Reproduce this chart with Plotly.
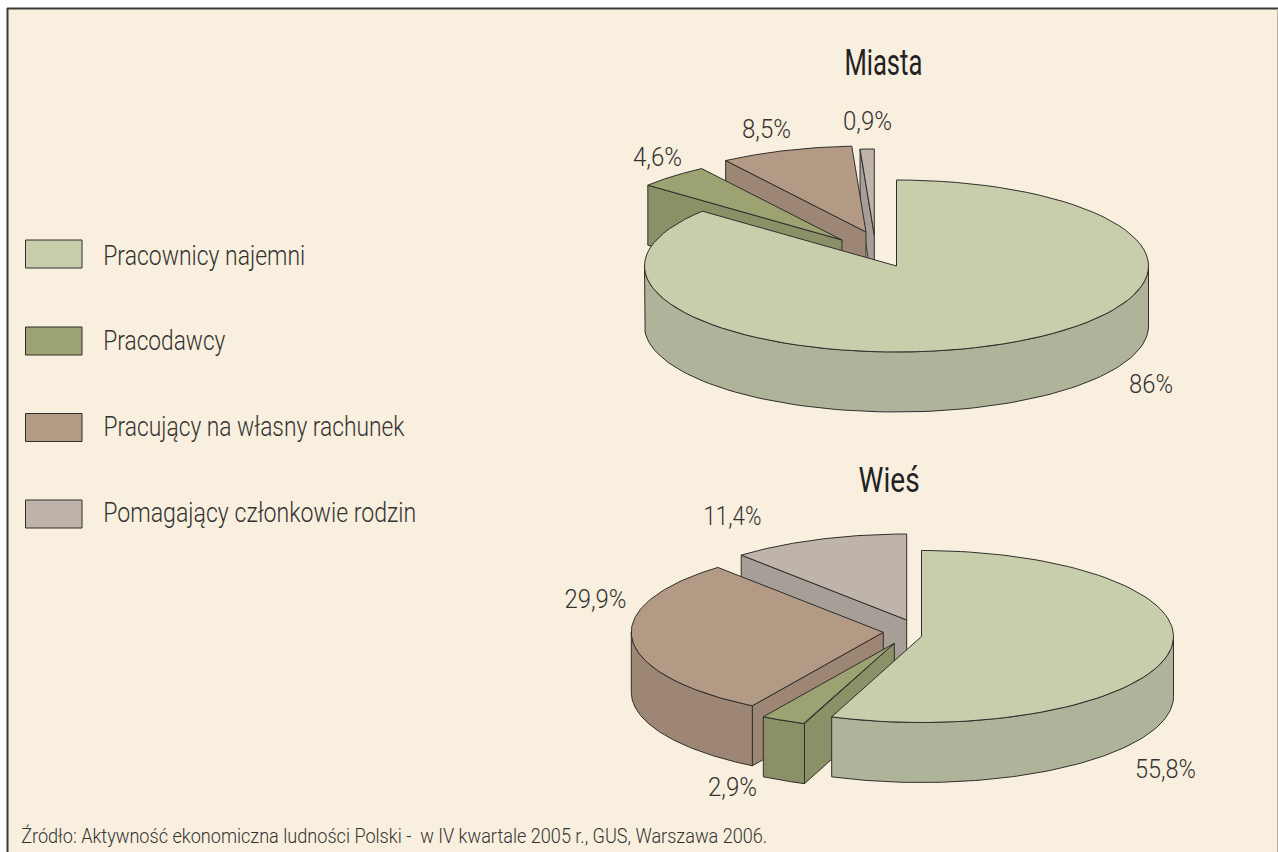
import json
import math
import plotly.graph_objects as go

categories = ["Pracownicy najemni", "Pracodawcy", "Pracujący na własny rachunek", "Pomagający członkowie rodzin"]
miasta_values = [86, 4.6, 8.5, 0.9]
wies_values = [55.8, 2.9, 29.9, 11.4]
title_miasta = "Miasta"
title_wies = "Wieś"
source_text = "Źródło: Aktywność ekonomiczna ludności Polski -  w IV kwartale 2005 r., GUS, Warszawa 2006."

TOP = ["#C8CDAC", "#9DA273", "#B39A84", "#BFB4AA"]
SIDE = ["#AFB399", "#8B9066", "#9E8674", "#A69E97"]
BG = "#F9EFDE"
EDGE = "#2E2E2C"
FONT = "Roboto"
TXT = "#333331"
RX, RY, DEPTH = 252, 86, 60

PIES = [
    dict(values=miasta_values, apex=[(896.5, 266), (842, 240), (866, 232), (874.3, 235)],
         labels=[(1151, 384), (657, 157), (766, 129), (867, 121)], widths=[44, 49, 49, 49]),
    dict(values=wies_values, apex=[(921.5, 636.5), (894.3, 643.3), (883.3, 632.3), (906.7, 620)],
         labels=[(1165, 769), (732, 787), (595, 599), (732, 516)], widths=[61, 49, 62, 58]),
]

fig = go.Figure()


def poly(pts, fill):
    fig.add_trace(go.Scatter(x=[p[0] for p in pts], y=[p[1] for p in pts], mode="lines",
                             fill="toself", fillcolor=fill, line=dict(color=EDGE, width=1),
                             hoverinfo="skip", showlegend=False))


def rim(c, deg, dy=0):
    t = math.radians(deg)
    return (c[0] + RX * math.sin(t), c[1] - RY * math.cos(t) + dy)


def arc(c, a, b, dy=0, n=90):
    return [rim(c, a + (b - a) * i / n, dy) for i in range(n + 1)]


def pie(spec):
    angles = [0]
    for v in spec["values"]:
        angles.append(angles[-1] + 3.6 * v)
    for i in range(len(spec["values"]) - 1, -1, -1):
        a, b, c = angles[i], angles[i + 1], spec["apex"][i]
        if math.sin(math.radians(a)) < -1e-6:
            o = rim(c, a)
            poly([o, c, (c[0], c[1] + DEPTH), (o[0], o[1] + DEPTH), o], SIDE[i])
        lo, hi = max(a, 90), min(b, 270)
        if lo < hi:
            top_edge = arc(c, lo, hi)
            poly(top_edge + arc(c, hi, lo, DEPTH) + [top_edge[0]], SIDE[i])
        poly([c] + arc(c, a, b) + [c], TOP[i])


for spec in PIES:
    pie(spec)

annotations = []
fit_widths = {}


def text(x, y, s, size, width, color=TXT, weight=300):
    fit_widths[s] = width
    annotations.append(dict(x=x, y=y, xref="x", yref="y", text=s, showarrow=False, xanchor="center",
                            yanchor="middle", font=dict(family=FONT, size=size, color=color, weight=weight)))


def pct(v):
    return f"{v:g}".replace(".", ",") + "%"


for spec in PIES:
    for v, pos, w in zip(spec["values"], spec["labels"], spec["widths"]):
        text(pos[0], pos[1], pct(v), 25, w)

text(883, 62, title_miasta, 37, 78, "#222222", 400)
text(888.5, 480, title_wies, 35, 61, "#222222", 400)
text(394, 836, source_text, 20, 746)

swatch_y = [254, 341, 427.5, 514]
legend_text_y = [255, 340.5, 426.5, 512.5]
legend_centers = [204, 164, 253.5, 259.5]
legend_widths = [202, 122, 301, 313]
for cat, col, yc, ty, xc, w in zip(categories, TOP, swatch_y, legend_text_y, legend_centers, legend_widths):
    h = 14
    poly([(25.5, yc - h), (82, yc - h), (82, yc + h), (25.5, yc + h), (25.5, yc - h)], col)
    text(xc, ty, cat, 28, w)

shapes = [
    dict(type="rect", x0=8, x1=1277, y0=9, y1=853, xref="x", yref="y", fillcolor=BG, line_width=0, layer="below"),
    dict(type="line", x0=7, x1=1278, y0=8.5, y1=8.5, xref="x", yref="y", line=dict(color="#3A3A38", width=2), layer="below"),
    dict(type="line", x0=7.5, x1=7.5, y0=8, y1=852, xref="x", yref="y", line=dict(color="#3A3A38", width=2), layer="below"),
    dict(type="line", x0=1277.5, x1=1277.5, y0=9, y1=852, xref="x", yref="y", line=dict(color="#BDB6A8", width=1), layer="below"),
]

fig.update_layout(
    width=1278, height=852, autosize=False,
    margin=dict(l=0, r=0, t=0, b=0),
    paper_bgcolor="white", plot_bgcolor="white",
    xaxis=dict(range=[0, 1278], visible=False, fixedrange=True),
    yaxis=dict(range=[852, 0], visible=False, fixedrange=True),
    annotations=annotations, shapes=shapes, showlegend=False,
)

# The reference uses a condensed face: squeeze the real text to its measured width.
post = """
document.body.style.margin = '0';
var W = %s;
document.querySelectorAll('text.annotation-text').forEach(function (t) {
  var w = W[t.textContent];
  if (w) { t.setAttribute('textLength', w); t.setAttribute('lengthAdjust', 'spacingAndGlyphs'); }
});
""" % json.dumps(fit_widths, ensure_ascii=False)

fig.write_html("out.html", config={"displayModeBar": False}, post_script=post)
